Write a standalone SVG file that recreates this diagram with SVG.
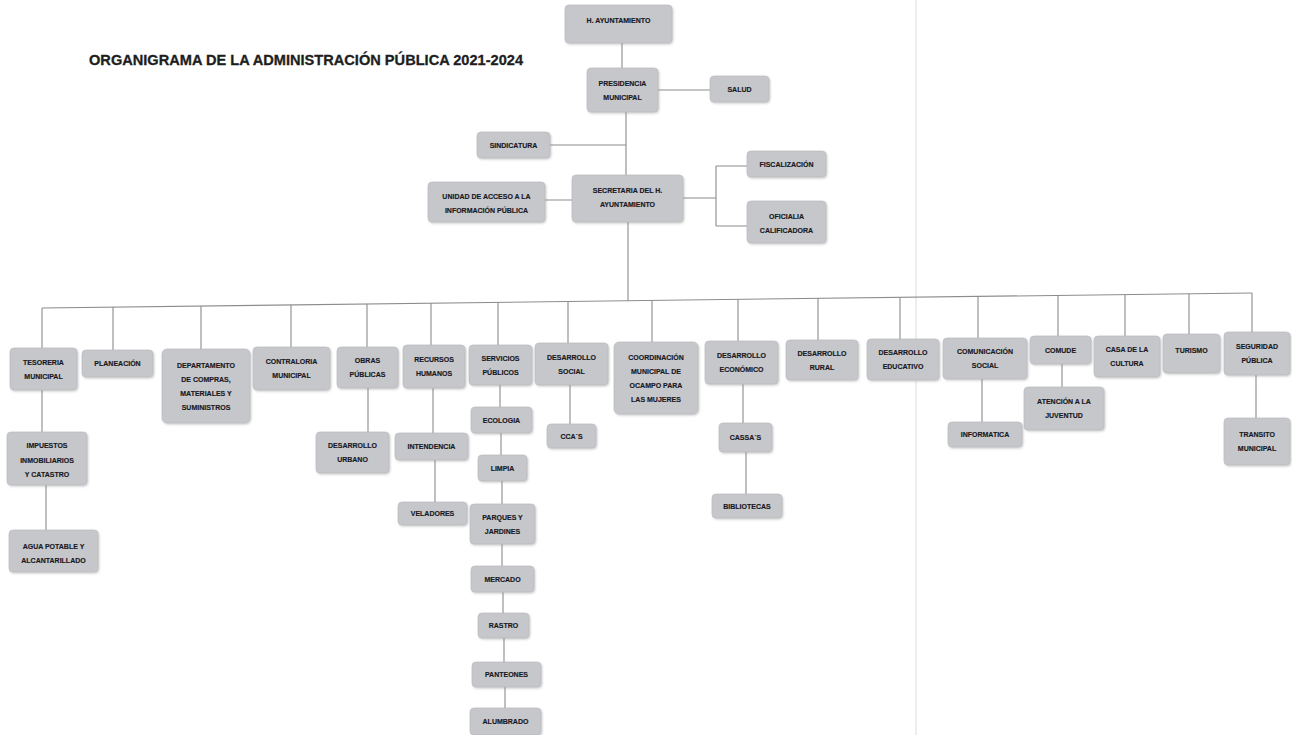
<svg xmlns="http://www.w3.org/2000/svg" width="1292" height="735" viewBox="0 0 1292 735">
<style>
.b{fill:#c6c7cb;stroke:#b9babe;stroke-width:0.6}
.t{font-family:"Liberation Sans",Arial,sans-serif;font-weight:bold;font-size:7px;fill:#18181f;stroke:#18181f;stroke-width:0.15;text-anchor:middle}
.c{fill:none;stroke:#8c8c8e;stroke-width:1.1}
.title{font-family:"Liberation Sans",Arial,sans-serif;font-weight:bold;font-size:14.5px;fill:#1e1e1e;stroke:#1e1e1e;stroke-width:0.3}
</style>
<defs>
<filter id="sh" x="-10%" y="-10%" width="125%" height="130%">
<feDropShadow dx="1" dy="1.2" stdDeviation="1" flood-color="#8a8a8a" flood-opacity="0.45"/>
</filter>
</defs>
<rect width="1292" height="735" fill="#ffffff"/>
<line x1="916" y1="0" x2="916" y2="735" stroke="#dcdcdc" stroke-width="1"/>
<text class="title" x="89" y="65" textLength="434" lengthAdjust="spacingAndGlyphs">ORGANIGRAMA DE LA ADMINISTRACIÓN PÚBLICA 2021-2024</text>

<g id="connectors">
<path class="c" d="M622 43V68M658 90H710M626 112V175M550 145H626M545 200H572M683 198H716M716 166V226M716 166H747M716 226H747M628 222V300.7"/>
<path class="c" d="M42 308L1252 293"/>
<path class="c" d="M42 308V348M113 307.1V350M201 306V349M291 304.9V347M367 304V347M431 303.2V345M498 302.3V345M568 301.5V343M652 300.4V342M738 299.4V341M818 298.4V340M900 297.4V339M978 296.4V338M1058 295.4V336M1125 294.6V336M1189 293.8V334M1252 293V332"/>
<path class="c" d="M42 390V432M46 485V530M368 388V432M433 388V433M435 460V502M500 385V407M501 433V455M502 481V504M502 544V566M503 592V613M504 638V662M505 687V708M570 385V424M743 384V423M746 452V494M982 379V422M1062 364V387M1256 375V418"/>
</g>

<g id="h-ayuntamiento"><rect class="b" filter="url(#sh)" x="565" y="5" width="107" height="38" rx="4"/><text class="t" x="618.5" y="23">H. AYUNTAMIENTO</text></g>
<g id="presidencia"><rect class="b" filter="url(#sh)" x="587" y="68" width="71" height="44" rx="4"/><text class="t"><tspan x="622.5" y="86">PRESIDENCIA</tspan><tspan x="622.5" y="100">MUNICIPAL</tspan></text></g>
<g id="salud"><rect class="b" filter="url(#sh)" x="710" y="76" width="59" height="26" rx="4"/><text class="t" x="739.5" y="91.5">SALUD</text></g>
<g id="sindicatura"><rect class="b" filter="url(#sh)" x="477" y="132" width="73" height="26" rx="4"/><text class="t" x="513.5" y="147.5">SINDICATURA</text></g>
<g id="secretaria"><rect class="b" filter="url(#sh)" x="572" y="175" width="111" height="47" rx="4"/><text class="t"><tspan x="627.5" y="193">SECRETARIA DEL H.</tspan><tspan x="627.5" y="207">AYUNTAMIENTO</tspan></text></g>
<g id="unidad-acceso"><rect class="b" filter="url(#sh)" x="428" y="182" width="117" height="40" rx="4"/><text class="t"><tspan x="486.5" y="199">UNIDAD DE ACCESO A LA</tspan><tspan x="486.5" y="213">INFORMACIÓN PÚBLICA</tspan></text></g>
<g id="fiscalizacion"><rect class="b" filter="url(#sh)" x="747" y="151" width="79" height="26" rx="4"/><text class="t" x="786.5" y="167">FISCALIZACIÓN</text></g>
<g id="oficialia"><rect class="b" filter="url(#sh)" x="747" y="201" width="79" height="42" rx="4"/><text class="t"><tspan x="786.5" y="219">OFICIALIA</tspan><tspan x="786.5" y="233">CALIFICADORA</tspan></text></g>

<g id="tesoreria"><rect class="b" filter="url(#sh)" x="10" y="348" width="67" height="42" rx="4"/><text class="t"><tspan x="43.5" y="365">TESORERIA</tspan><tspan x="43.5" y="379">MUNICIPAL</tspan></text></g>
<g id="planeacion"><rect class="b" filter="url(#sh)" x="82" y="350" width="71" height="27" rx="4"/><text class="t" x="117.5" y="366">PLANEACIÓN</text></g>
<g id="compras"><rect class="b" filter="url(#sh)" x="162" y="349" width="88" height="74" rx="5"/><text class="t"><tspan x="206" y="368">DEPARTAMENTO</tspan><tspan x="206" y="382">DE COMPRAS,</tspan><tspan x="206" y="396">MATERIALES Y</tspan><tspan x="206" y="410">SUMINISTROS</tspan></text></g>
<g id="contraloria"><rect class="b" filter="url(#sh)" x="253" y="347" width="77" height="43" rx="4"/><text class="t"><tspan x="291.5" y="364">CONTRALORIA</tspan><tspan x="291.5" y="378">MUNICIPAL</tspan></text></g>
<g id="obras-publicas"><rect class="b" filter="url(#sh)" x="337" y="347" width="61" height="41" rx="4"/><text class="t"><tspan x="367.5" y="363">OBRAS</tspan><tspan x="367.5" y="377">PÚBLICAS</tspan></text></g>
<g id="recursos-humanos"><rect class="b" filter="url(#sh)" x="403" y="345" width="62" height="43" rx="4"/><text class="t"><tspan x="434" y="362">RECURSOS</tspan><tspan x="434" y="376">HUMANOS</tspan></text></g>
<g id="servicios-publicos"><rect class="b" filter="url(#sh)" x="469" y="345" width="63" height="40" rx="4"/><text class="t"><tspan x="500.5" y="361">SERVICIOS</tspan><tspan x="500.5" y="375">PÚBLICOS</tspan></text></g>
<g id="desarrollo-social"><rect class="b" filter="url(#sh)" x="535" y="343" width="73" height="42" rx="4"/><text class="t"><tspan x="571.5" y="360">DESARROLLO</tspan><tspan x="571.5" y="374">SOCIAL</tspan></text></g>
<g id="mujeres"><rect class="b" filter="url(#sh)" x="614" y="342" width="84" height="72" rx="5"/><text class="t"><tspan x="656" y="360">COORDINACIÓN</tspan><tspan x="656" y="374">MUNICIPAL DE</tspan><tspan x="656" y="388">OCAMPO PARA</tspan><tspan x="656" y="402">LAS MUJERES</tspan></text></g>
<g id="desarrollo-economico"><rect class="b" filter="url(#sh)" x="705" y="341" width="73" height="43" rx="4"/><text class="t"><tspan x="741.5" y="358">DESARROLLO</tspan><tspan x="741.5" y="372">ECONÓMICO</tspan></text></g>
<g id="desarrollo-rural"><rect class="b" filter="url(#sh)" x="786" y="340" width="72" height="40" rx="4"/><text class="t"><tspan x="822" y="356">DESARROLLO</tspan><tspan x="822" y="370">RURAL</tspan></text></g>
<g id="desarrollo-educativo"><rect class="b" filter="url(#sh)" x="867" y="339" width="72" height="41" rx="4"/><text class="t"><tspan x="903" y="355">DESARROLLO</tspan><tspan x="903" y="369">EDUCATIVO</tspan></text></g>
<g id="comunicacion-social"><rect class="b" filter="url(#sh)" x="943" y="338" width="84" height="41" rx="4"/><text class="t"><tspan x="985" y="354">COMUNICACIÓN</tspan><tspan x="985" y="368">SOCIAL</tspan></text></g>
<g id="comude"><rect class="b" filter="url(#sh)" x="1030" y="336" width="61" height="28" rx="4"/><text class="t" x="1060.5" y="352.5">COMUDE</text></g>
<g id="casa-cultura"><rect class="b" filter="url(#sh)" x="1094" y="336" width="66" height="41" rx="4"/><text class="t"><tspan x="1127" y="352">CASA DE LA</tspan><tspan x="1127" y="366">CULTURA</tspan></text></g>
<g id="turismo"><rect class="b" filter="url(#sh)" x="1163" y="334" width="57" height="39" rx="4"/><text class="t" x="1191.5" y="352.5">TURISMO</text></g>
<g id="seguridad-publica"><rect class="b" filter="url(#sh)" x="1224" y="332" width="66" height="43" rx="4"/><text class="t"><tspan x="1257" y="349">SEGURIDAD</tspan><tspan x="1257" y="363">PÚBLICA</tspan></text></g>

<g id="impuestos"><rect class="b" filter="url(#sh)" x="7" y="432" width="80" height="53" rx="4"/><text class="t"><tspan x="47" y="448">IMPUESTOS</tspan><tspan x="47" y="462.5">INMOBILIARIOS</tspan><tspan x="47" y="477">Y CATASTRO</tspan></text></g>
<g id="agua-potable"><rect class="b" filter="url(#sh)" x="9" y="530" width="89" height="42" rx="4"/><text class="t"><tspan x="53.5" y="549">AGUA POTABLE Y</tspan><tspan x="53.5" y="563">ALCANTARILLADO</tspan></text></g>
<g id="desarrollo-urbano"><rect class="b" filter="url(#sh)" x="316" y="432" width="73" height="41" rx="4"/><text class="t"><tspan x="352.5" y="448">DESARROLLO</tspan><tspan x="352.5" y="462">URBANO</tspan></text></g>
<g id="intendencia"><rect class="b" filter="url(#sh)" x="395" y="433" width="73" height="27" rx="4"/><text class="t" x="431.5" y="449">INTENDENCIA</text></g>
<g id="veladores"><rect class="b" filter="url(#sh)" x="398" y="502" width="69" height="23" rx="4"/><text class="t" x="432.5" y="516">VELADORES</text></g>
<g id="ecologia"><rect class="b" filter="url(#sh)" x="471" y="407" width="61" height="26" rx="4"/><text class="t" x="501.5" y="422.5">ECOLOGIA</text></g>
<g id="limpia"><rect class="b" filter="url(#sh)" x="478" y="455" width="49" height="26" rx="4"/><text class="t" x="502.5" y="470.5">LIMPIA</text></g>
<g id="parques"><rect class="b" filter="url(#sh)" x="470" y="504" width="65" height="40" rx="4"/><text class="t"><tspan x="502.5" y="520">PARQUES Y</tspan><tspan x="502.5" y="534">JARDINES</tspan></text></g>
<g id="mercado"><rect class="b" filter="url(#sh)" x="471" y="566" width="63" height="26" rx="4"/><text class="t" x="502.5" y="581.5">MERCADO</text></g>
<g id="rastro"><rect class="b" filter="url(#sh)" x="478" y="613" width="51" height="25" rx="4"/><text class="t" x="503.5" y="628">RASTRO</text></g>
<g id="panteones"><rect class="b" filter="url(#sh)" x="472" y="662" width="69" height="25" rx="4"/><text class="t" x="506.5" y="677">PANTEONES</text></g>
<g id="alumbrado"><rect class="b" filter="url(#sh)" x="470" y="708" width="71" height="27" rx="4"/><text class="t" x="505.5" y="724">ALUMBRADO</text></g>
<g id="ccas"><rect class="b" filter="url(#sh)" x="547" y="424" width="49" height="24" rx="4"/><text class="t" x="571.5" y="438.5">CCA´S</text></g>
<g id="cassas"><rect class="b" filter="url(#sh)" x="719" y="423" width="53" height="29" rx="4"/><text class="t" x="745.5" y="440">CASSA´S</text></g>
<g id="bibliotecas"><rect class="b" filter="url(#sh)" x="712" y="494" width="70" height="24" rx="4"/><text class="t" x="747" y="508.5">BIBLIOTECAS</text></g>
<g id="informatica"><rect class="b" filter="url(#sh)" x="948" y="422" width="74" height="25" rx="4"/><text class="t" x="985" y="437">INFORMATICA</text></g>
<g id="juventud"><rect class="b" filter="url(#sh)" x="1024" y="387" width="80" height="43" rx="4"/><text class="t"><tspan x="1064" y="404">ATENCIÓN A LA</tspan><tspan x="1064" y="418">JUVENTUD</tspan></text></g>
<g id="transito"><rect class="b" filter="url(#sh)" x="1224" y="418" width="66" height="47" rx="4"/><text class="t"><tspan x="1257" y="437">TRANSITO</tspan><tspan x="1257" y="451">MUNICIPAL</tspan></text></g>
</svg>
